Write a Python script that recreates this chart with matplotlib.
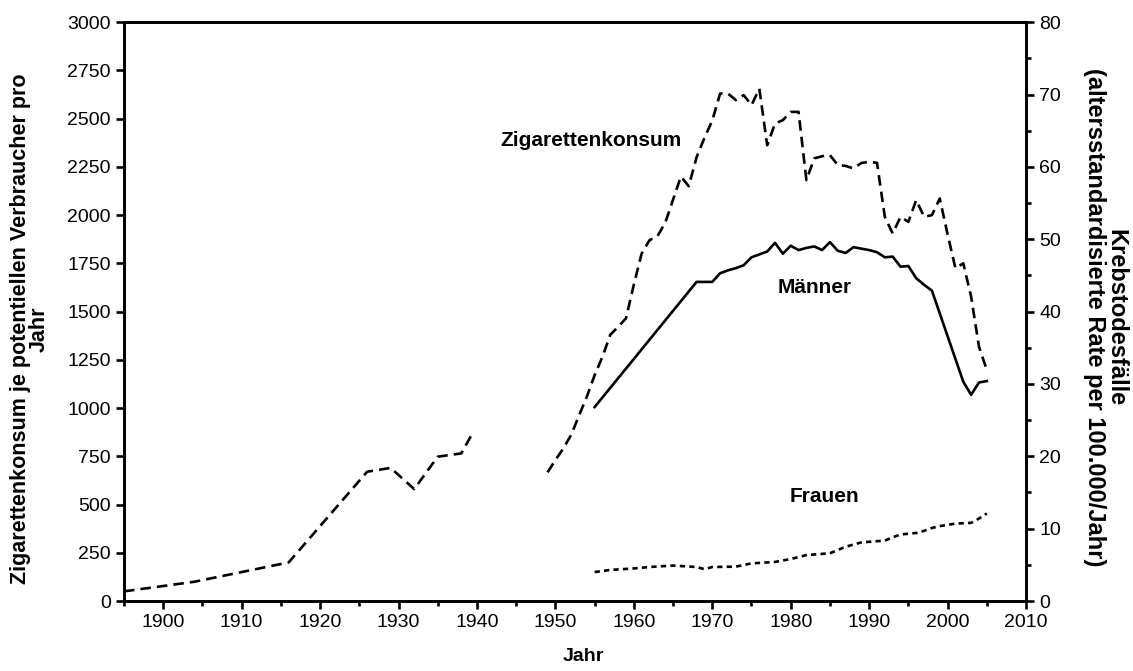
import matplotlib
matplotlib.use("Agg")
import matplotlib.pyplot as plt
from matplotlib.ticker import MultipleLocator

plt.rcParams['font.family'] = ['Liberation Sans', 'DejaVu Sans']

# Zigarettenkonsum (linke Achse), zwei Abschnitte
cig_years_1 = [1895, 1904, 1916, 1926, 1929, 1932, 1935, 1938, 1939.5]
cig_vals_1 = [50, 100, 200, 670, 690, 580, 748, 765, 874]

cig_years_2 = [1949, 1950, 1951, 1952, 1953, 1954, 1955, 1956, 1957, 1958, 1959,
               1960, 1961, 1962, 1963, 1964, 1965, 1966, 1967, 1968, 1969, 1970,
               1971, 1972, 1973, 1974, 1975, 1976, 1977, 1978, 1979, 1980, 1981,
               1982, 1983, 1984, 1985, 1986, 1987, 1988, 1989, 1990, 1991, 1992,
               1993, 1994, 1995, 1996, 1997, 1998, 1999, 2000, 2001, 2002, 2003,
               2004, 2005]
cig_vals_2 = [667, 730, 790, 860, 960, 1058, 1170, 1266, 1380, 1421, 1465,
              1640, 1801, 1870, 1890, 1960, 2080, 2200, 2150, 2300, 2400, 2490,
              2630, 2630, 2596, 2622, 2570, 2655, 2362, 2475, 2492, 2535, 2535,
              2181, 2294, 2305, 2311, 2259, 2255, 2242, 2270, 2276, 2271, 1990,
              1905, 1991, 1965, 2078, 1991, 2000, 2086, 1900, 1724, 1750, 1577,
              1318, 1197]

# Krebstodesfaelle Maenner (rechte Achse)
men_years = [1955, 1968, 1970, 1971, 1972, 1973, 1974, 1975, 1976, 1977, 1978,
             1979, 1980, 1981, 1982, 1983, 1984, 1985, 1986, 1987, 1988, 1989,
             1990, 1991, 1992, 1993, 1994, 1995, 1996, 1997, 1998, 2002, 2003,
             2004, 2005]
men_vals = [26.8, 44.1, 44.1, 45.3, 45.7, 46.0, 46.4, 47.5, 47.9, 48.3, 49.5,
            48.0, 49.1, 48.5, 48.8, 49.0, 48.5, 49.6, 48.4, 48.1, 48.9, 48.7,
            48.5, 48.2, 47.5, 47.6, 46.2, 46.3, 44.6, 43.7, 42.9, 30.3, 28.5,
            30.2, 30.4]

# Krebstodesfaelle Frauen (rechte Achse)
women_years = [1955, 1957, 1960, 1962, 1965, 1968, 1969, 1970, 1973, 1975, 1978,
               1980, 1982, 1985, 1987, 1989, 1992, 1993, 1994, 1996, 1997, 1998,
               1999, 2001, 2003, 2004, 2005]
women_vals = [4.0, 4.3, 4.5, 4.7, 4.9, 4.7, 4.4, 4.7, 4.75, 5.2, 5.4,
              5.8, 6.35, 6.6, 7.5, 8.1, 8.35, 8.8, 9.2, 9.4, 9.7, 10.1,
              10.35, 10.7, 10.8, 11.4, 12.1]

lw = 1.9

fig = plt.figure(figsize=(11.33, 6.71), dpi=100)
ax = fig.add_axes([0.1094, 0.1043, 0.7962, 0.8627])
ax2 = ax.twinx()

ax.plot(cig_years_1, cig_vals_1, color='black', lw=lw, dashes=(4, 2.3))
ax.plot(cig_years_2, cig_vals_2, color='black', lw=lw, dashes=(4, 2.3))
ax2.plot(men_years, men_vals, color='black', lw=lw)
ax2.plot(women_years, women_vals, color='black', lw=lw, dashes=(2, 1.6))

ax.set_xlim(1895, 2010)
ax.set_ylim(0, 3000)
ax2.set_ylim(0, 80)

ax.xaxis.set_major_locator(MultipleLocator(10))
ax.xaxis.set_minor_locator(MultipleLocator(5))
ax.yaxis.set_major_locator(MultipleLocator(250))
ax2.yaxis.set_major_locator(MultipleLocator(10))
ax2.yaxis.set_minor_locator(MultipleLocator(5))

for a in (ax, ax2):
    for s in a.spines.values():
        s.set_linewidth(lw)
    a.tick_params(which='major', length=6, width=lw, labelsize=14, direction='out')
    a.tick_params(which='minor', length=3.5, width=lw, direction='out')

ax.set_xlabel('Jahr', fontsize=14, fontweight='bold')
ax.xaxis.set_label_coords(0.509, -0.081)
ax.set_ylabel('Zigarettenkonsum je potentiellen Verbraucher pro\nJahr',
              fontsize=15.5, fontweight='bold', linespacing=0.9)
ax.yaxis.set_label_coords(-0.082, 0.47)
ax2.set_ylabel('Krebstodesfälle\n(altersstandardisierte Rate per 100.000/Jahr)',
               fontsize=17, fontweight='bold', rotation=270, linespacing=0.9,
               va='center')
ax2.yaxis.set_label_coords(1.088, 0.49)

ax.text(1954.6, 2388, 'Zigarettenkonsum', fontsize=15, fontweight='bold',
        ha='center', va='center')
ax2.text(1983.1, 43.3, 'Männer', fontsize=15, fontweight='bold',
         ha='center', va='center')
ax2.text(1984.3, 14.4, 'Frauen', fontsize=15, fontweight='bold',
         ha='center', va='center')

fig.savefig('out.png', dpi=100)
